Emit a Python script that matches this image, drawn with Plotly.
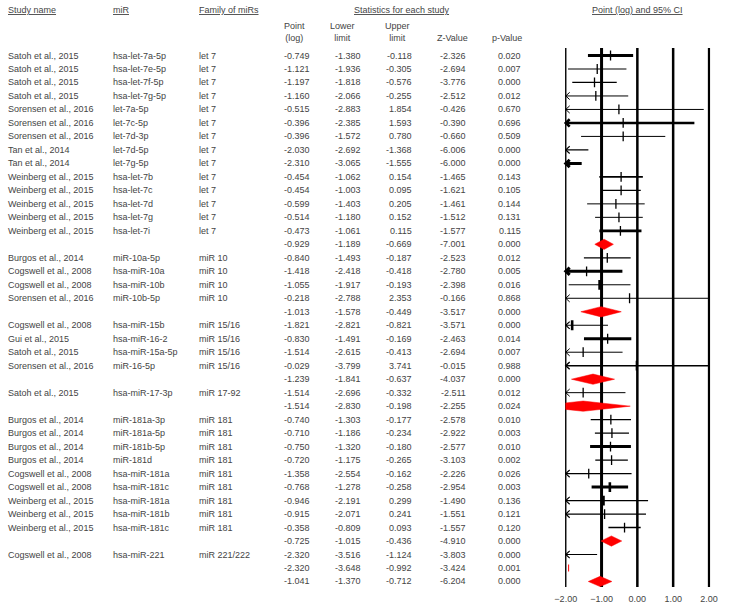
import plotly.graph_objects as go

# ---------------- data ----------------
study = ["Satoh et al., 2015", "Satoh et al., 2015", "Satoh et al., 2015", "Satoh et al., 2015",
         "Sorensen et al., 2016", "Sorensen et al., 2016", "Sorensen et al., 2016",
         "Tan et al., 2014", "Tan et al., 2014",
         "Weinberg et al., 2015", "Weinberg et al., 2015", "Weinberg et al., 2015",
         "Weinberg et al., 2015", "Weinberg et al., 2015", "",
         "Burgos et al., 2014", "Cogswell et al., 2008", "Cogswell et al., 2008", "Sorensen et al., 2016", "",
         "Cogswell et al., 2008", "Gui et al., 2015", "Satoh et al., 2015", "Sorensen et al., 2016", "",
         "Satoh et al., 2015", "",
         "Burgos et al., 2014", "Burgos et al., 2014", "Burgos et al., 2014", "Burgos et al., 2014",
         "Cogswell et al., 2008", "Cogswell et al., 2008", "Weinberg et al., 2015",
         "Weinberg et al., 2015", "Weinberg et al., 2015", "",
         "Cogswell et al., 2008", "", ""]
mir = ["hsa-let-7a-5p", "hsa-let-7e-5p", "hsa-let-7f-5p", "hsa-let-7g-5p",
       "let-7a-5p", "let-7c-5p", "let-7d-3p", "let-7d-5p", "let-7g-5p",
       "hsa-let-7b", "hsa-let-7c", "hsa-let-7d", "hsa-let-7g", "hsa-let-7i", "",
       "miR-10a-5p", "hsa-miR-10a", "hsa-miR-10b", "miR-10b-5p", "",
       "hsa-miR-15b", "hsa-miR-16-2", "hsa-miR-15a-5p", "miR-16-5p", "",
       "hsa-miR-17-3p", "",
       "miR-181a-3p", "miR-181a-5p", "miR-181b-5p", "miR-181d",
       "hsa-miR-181a", "hsa-miR-181c", "hsa-miR-181a", "hsa-miR-181b", "hsa-miR-181c", "",
       "hsa-miR-221", "", ""]
family = ["let 7"] * 14 + [""] + ["miR 10"] * 4 + [""] + ["miR 15/16"] * 4 + [""] + \
         ["miR 17-92", ""] + ["miR 181"] * 9 + [""] + ["miR 221/222", "", ""]
point = [-0.749, -1.121, -1.197, -1.160, -0.515, -0.396, -0.396, -2.030, -2.310,
         -0.454, -0.454, -0.599, -0.514, -0.473, -0.929,
         -0.840, -1.418, -1.055, -0.218, -1.013,
         -1.821, -0.830, -1.514, -0.029, -1.239,
         -1.514, -1.514,
         -0.740, -0.710, -0.750, -0.720, -1.358, -0.768, -0.946, -0.915, -0.358, -0.725,
         -2.320, -2.320, -1.041]
lower = [-1.380, -1.936, -1.818, -2.066, -2.883, -2.385, -1.572, -2.692, -3.065,
         -1.062, -1.003, -1.403, -1.180, -1.061, -1.189,
         -1.493, -2.418, -1.917, -2.788, -1.578,
         -2.821, -1.491, -2.615, -3.799, -1.841,
         -2.696, -2.830,
         -1.303, -1.186, -1.320, -1.175, -2.554, -1.278, -2.191, -2.071, -0.809, -1.015,
         -3.516, -3.648, -1.370]
upper = [-0.118, -0.305, -0.576, -0.255, 1.854, 1.593, 0.780, -1.368, -1.555,
         0.154, 0.095, 0.205, 0.152, 0.115, -0.669,
         -0.187, -0.418, -0.193, 2.353, -0.449,
         -0.821, -0.169, -0.413, 3.741, -0.637,
         -0.332, -0.198,
         -0.177, -0.234, -0.180, -0.265, -0.162, -0.258, 0.299, 0.241, 0.093, -0.436,
         -1.124, -0.992, -0.712]
zval = [-2.326, -2.694, -3.776, -2.512, -0.426, -0.390, -0.660, -6.006, -6.000,
        -1.465, -1.621, -1.461, -1.512, -1.577, -7.001,
        -2.523, -2.780, -2.398, -0.166, -3.517,
        -3.571, -2.463, -2.694, -0.015, -4.037,
        -2.511, -2.255,
        -2.578, -2.922, -2.577, -3.103, -2.226, -2.954, -1.490, -1.551, -1.557, -4.910,
        -3.803, -3.424, -6.204]
pval = [0.020, 0.007, 0.000, 0.012, 0.670, 0.696, 0.509, 0.000, 0.000,
        0.143, 0.105, 0.144, 0.131, 0.115, 0.000,
        0.012, 0.005, 0.016, 0.868, 0.000,
        0.000, 0.014, 0.007, 0.988, 0.000,
        0.012, 0.024,
        0.010, 0.003, 0.010, 0.002, 0.026, 0.003, 0.136, 0.121, 0.120, 0.000,
        0.000, 0.001, 0.000]
summary_rows = [15, 20, 25, 27, 37, 39, 40]
x_ticks = [-2, -1, 0, 1, 2]

# ---------------- styles ----------------
ci_width = [3, 1.2, 1.2, 1, 1, 2.6, 1, 1.2, 3,
            1.6, 1.2, 1, 1, 2.6, 0,
            1.2, 3, 1, 1, 0,
            1.2, 3, 1, 1.4, 0,
            1, 0,
            1.4, 1.3, 3, 1.2, 1.2, 3, 1.2, 1.2, 1.4, 0,
            1.2, 0, 0]
tick_width = [1.3] * 40
for r in (18, 21, 33, 34):
    tick_width[r - 1] = 2.6
vline_width = {-2: 1.4, -1: 3, 0: 2.5, 1: 2.5, 2: 2.2}

W, H = 730, 608
FONT = "Liberation Sans, Arial, sans-serif"
TXT = "#444444"
FS = 9
ROW0, ROWH = 55.5, 13.487          # pixel y of row 1, row spacing
PX_TOP, PX_BOT = 48, 587           # vertical extent of forest panel
PX_M2, PX_P2 = 567.3, 712.7        # pixel x of -2 and +2
PAD = 0.12
ppu = (PX_P2 - PX_M2) / 4.0
XMIN, XMAX = -2, 2


def pv(p):
    return (p - ROW0) / ROWH + 1


n = len(point)
rows = list(range(1, n + 1))

fig = go.Figure()

# reference vertical lines
shapes = []
for v in x_ticks:
    shapes.append(dict(type="line", xref="x", yref="paper", x0=v, x1=v,
                       y0=(H - PX_BOT) / H, y1=(H - PX_TOP) / H,
                       line=dict(color="black", width=vline_width[v]), layer="below"))

# CI lines grouped by width
AX, AY = 0.11, 0.27
groups = {}
for i in range(n):
    r = rows[i]
    if r in summary_rows:
        continue
    w = ci_width[i]
    xs, ys = groups.setdefault(w, ([], []))
    x0 = max(lower[i], XMIN)
    x1 = min(upper[i], XMAX)
    xs += [x0, x1, None]
    ys += [r, r, None]
    if lower[i] < XMIN:
        xs += [XMIN + AX, XMIN, XMIN + AX, None]
        ys += [r - AY, r, r + AY, None]
for w, (xs, ys) in groups.items():
    fig.add_trace(go.Scatter(x=xs, y=ys, mode="lines", line=dict(color="black", width=w),
                             hoverinfo="skip", showlegend=False))

# point ticks
tx, ty, tw = [], [], []
for i in range(n):
    r = rows[i]
    if r in summary_rows:
        continue
    if XMIN <= point[i] <= XMAX:
        tx.append(point[i]); ty.append(r); tw.append(tick_width[i])
fig.add_trace(go.Scatter(x=tx, y=ty, mode="markers",
                         marker=dict(symbol="line-ns", size=7, color="black",
                                     line=dict(color="black", width=tw)),
                         hoverinfo="skip", showlegend=False))


def clip_poly(xs, ys, xmin, xmax):
    pts = list(zip(xs, ys))

    def clip(pts, inside, inter):
        out = []
        for k in range(len(pts)):
            a, b = pts[k - 1], pts[k]
            if inside(b):
                if not inside(a):
                    out.append(inter(a, b))
                out.append(b)
            elif inside(a):
                out.append(inter(a, b))
        return out

    def ix(xc):
        def f(a, b):
            t = (xc - a[0]) / (b[0] - a[0])
            return (xc, a[1] + t * (b[1] - a[1]))
        return f

    pts = clip(pts, lambda p: p[0] >= xmin, ix(xmin))
    pts = clip(pts, lambda p: p[0] <= xmax, ix(xmax))
    return [p[0] for p in pts], [p[1] for p in pts]


DH = 0.38
for i in range(n):
    r = rows[i]
    if r not in summary_rows:
        continue
    if point[i] < XMIN:
        fig.add_trace(go.Scatter(x=[XMIN + 0.08], y=[r], mode="markers",
                                 marker=dict(symbol="line-ns", size=5, color="red",
                                             line=dict(color="red", width=1)),
                                 hoverinfo="skip", showlegend=False))
        continue
    xs = [lower[i], point[i], upper[i], point[i]]
    ys = [r, r - DH, r, r + DH]
    xs, ys = clip_poly(xs, ys, XMIN, XMAX)
    xs.append(xs[0]); ys.append(ys[0])
    fig.add_trace(go.Scatter(x=xs, y=ys, mode="lines", fill="toself", fillcolor="red",
                             line=dict(color="red", width=0.5),
                             hoverinfo="skip", showlegend=False))

# ---------------- text table ----------------
ann = []


def add(text, px, py, anchor, yref="y"):
    ann.append(dict(text=text, x=px / W, xref="paper",
                    y=py if yref == "y" else 1 - py / H, yref=yref,
                    xanchor=anchor, yanchor="middle", showarrow=False,
                    borderpad=0, borderwidth=0,
                    font=dict(family=FONT, size=FS, color=TXT)))


COL_STUDY, COL_MIR, COL_FAM = 1.5, 108, 195
COL_NUM = [308, 359.5, 411, 466, 522]
for i in range(n):
    r = rows[i]
    if study[i]:
        add(study[i], COL_STUDY, r, "left")
    if mir[i]:
        add(mir[i], COL_MIR, r, "left")
    if family[i]:
        add(family[i], COL_FAM, r, "left")
    for cx, v in zip(COL_NUM, [point[i], lower[i], upper[i], zval[i], pval[i]]):
        add(f"{v:.3f}", cx, r, "right")

add("<u>Study name</u>", COL_STUDY, 10, "left", "paper")
add("<u>miR</u>", COL_MIR, 10, "left", "paper")
add("<u>Family of miRs</u>", COL_FAM, 10, "left", "paper")
add("<u>Statistics for each study</u>", 401, 10, "center", "paper")
add("<u>Point (log) and 95% CI</u>", 640, 10, "center", "paper")
add("Point<br>(log)", 292, 32, "center", "paper")
add("Lower<br>limit", 341, 32, "center", "paper")
add("Upper<br>limit", 396, 32, "center", "paper")
add("Z-Value", 452, 38, "center", "paper")
add("p-Value", 508, 38, "center", "paper")

fig.update_layout(
    width=W, height=H, margin=dict(l=0, r=0, t=0, b=0),
    paper_bgcolor="white", plot_bgcolor="white",
    showlegend=False, shapes=shapes, annotations=ann,
    xaxis=dict(domain=[(PX_M2 - PAD * ppu) / W, (PX_P2 + PAD * ppu) / W],
               range=[XMIN - PAD, XMAX + PAD], tickvals=x_ticks, tickformat=".2f",
               showgrid=False, zeroline=False, showline=False,
               ticks="outside", ticklen=3, tickcolor="rgba(0,0,0,0)",
               tickfont=dict(family=FONT, size=FS, color=TXT)),
    yaxis=dict(domain=[(H - PX_BOT) / H, (H - PX_TOP) / H],
               range=[pv(PX_BOT), pv(PX_TOP)], visible=False),
)

fig.write_html("out.html", config={"displayModeBar": False},
               post_script="document.body.style.margin='0px';document.body.style.overflow='hidden';")
